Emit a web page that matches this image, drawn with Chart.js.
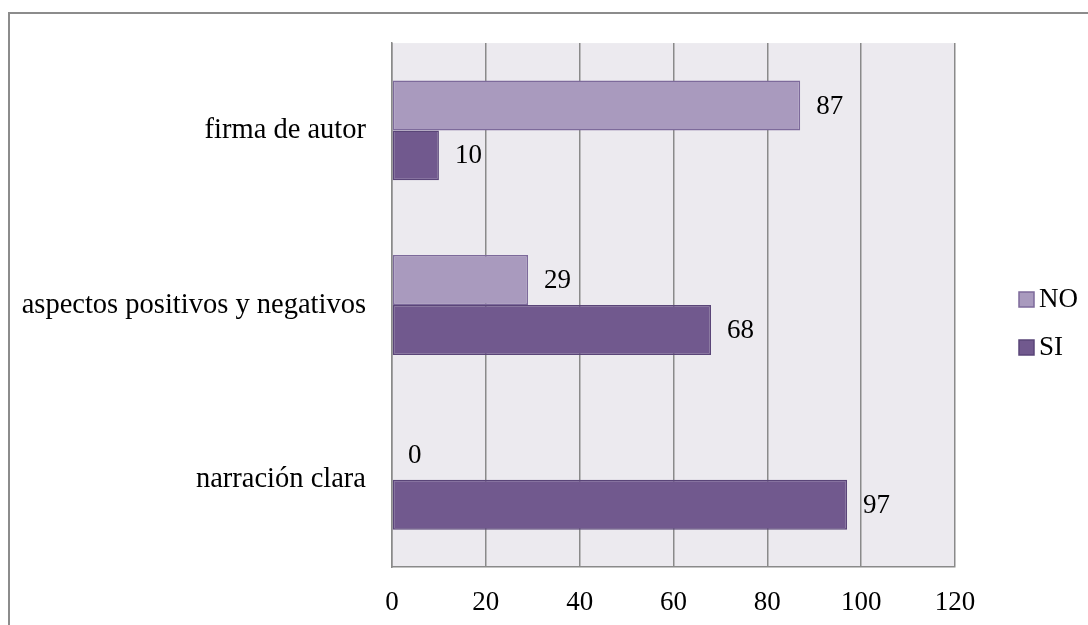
<!DOCTYPE html>
<html>
<head>
<meta charset="utf-8">
<script src="https://cdn.jsdelivr.net/npm/chart.js@4/dist/chart.umd.min.js"></script>
<style>
    html, body { margin: 0; padding: 0; background: #ffffff; overflow: hidden; }
    .frame {
        position: absolute; left: 8px; top: 12px;
        width: 1200px; height: 700px;
        border: 2px solid #8c8c8c;
    }
    .wrap { position: absolute; left: 0; top: 0; width: 1088px; height: 625px; }
</style>
</head>
<body>
<div class="frame"></div>
<div class="wrap"><canvas id="surveyChart" width="1088" height="625"></canvas></div>
<script>
// --- Chart data ---
const categories = ['firma de autor', 'aspectos positivos y negativos', 'narración clara'];
const noValues = [87, 29, 0];
const siValues = [10, 68, 97];
const axisMin = 0;
const axisMax = 120;
const axisStep = 20;

const gridGray = '#8a8a8a';
Chart.defaults.font.family = "'Liberation Serif', 'Times New Roman', serif";
Chart.defaults.font.size = 27;
Chart.defaults.color = '#000000';

// plot area background
const plotBackground = {
    id: 'plotBackground',
    beforeDraw(chart) {
        const { ctx, chartArea } = chart;
        ctx.save();
        ctx.fillStyle = '#eceaef';
        ctx.fillRect(chartArea.left, chartArea.top, chartArea.right - chartArea.left, chartArea.bottom - chartArea.top);
        ctx.restore();
    }
};

// value labels to the right of each bar
const valueLabels = {
    id: 'valueLabels',
    afterDatasetsDraw(chart) {
        const ctx = chart.ctx;
        ctx.save();
        ctx.font = "27px 'Liberation Serif', serif";
        ctx.fillStyle = '#000000';
        ctx.textAlign = 'left';
        ctx.textBaseline = 'middle';
        chart.data.datasets.forEach((ds, i) => {
            chart.getDatasetMeta(i).data.forEach((bar, j) => {
                ctx.fillText(String(ds.data[j]), bar.x + 16, bar.y + 1);
            });
        });
        ctx.restore();
    }
};

// legend on the right, like the office chart
const sideLegend = {
    id: 'sideLegend',
    afterDraw(chart) {
        const ctx = chart.ctx;
        ctx.save();
        ctx.font = "27px 'Liberation Serif', serif";
        ctx.textAlign = 'left';
        ctx.textBaseline = 'middle';
        chart.data.datasets.forEach((ds, i) => {
            const cy = 299 + i * 48;
            ctx.fillStyle = ds.backgroundColor;
            ctx.strokeStyle = ds.borderColor;
            ctx.lineWidth = 1.5;
            ctx.fillRect(1019, cy - 7, 15, 15);
            ctx.strokeRect(1019, cy - 7, 15, 15);
            ctx.fillStyle = '#000000';
            ctx.fillText(ds.label, 1039, cy + 1);
        });
        ctx.restore();
    }
};

const ctx = document.getElementById('surveyChart');
new Chart(ctx, {
    type: 'bar',
    data: {
        labels: categories,
        datasets: [{
            label: 'NO',
            data: noValues,
            backgroundColor: '#a99abe',
            borderColor: '#7d6a9b',
            borderWidth: 1.5,
            borderSkipped: false
        }, {
            label: 'SI',
            data: siValues,
            backgroundColor: '#71598e',
            borderColor: '#5a4578',
            borderWidth: 1.5,
            borderSkipped: false
        }]
    },
    options: {
        indexAxis: 'y',
        responsive: false,
        animation: false,
        layout: { padding: { top: 42, right: 133, bottom: 0, left: 0 } },
        datasets: {
            bar: { categoryPercentage: 0.572, barPercentage: 1.0 }
        },
        scales: {
            x: {
                min: axisMin,
                max: axisMax,
                ticks: { stepSize: axisStep, padding: 20 },
                grid: { color: gridGray, lineWidth: 1.5, drawTicks: false },
                border: { display: true, color: gridGray, width: 1.5 },
                afterFit(scale) { scale.height = 58; }
            },
            y: {
                ticks: { padding: 26, font: { size: 28.5 } },
                grid: { display: false, drawTicks: false },
                border: { display: true, color: gridGray, width: 1.5 },
                afterFit(scale) { scale.width = 392; }
            }
        },
        plugins: {
            legend: { display: false },
            tooltip: { enabled: false }
        }
    },
    plugins: [plotBackground, valueLabels, sideLegend]
});
</script>
</body>
</html>
